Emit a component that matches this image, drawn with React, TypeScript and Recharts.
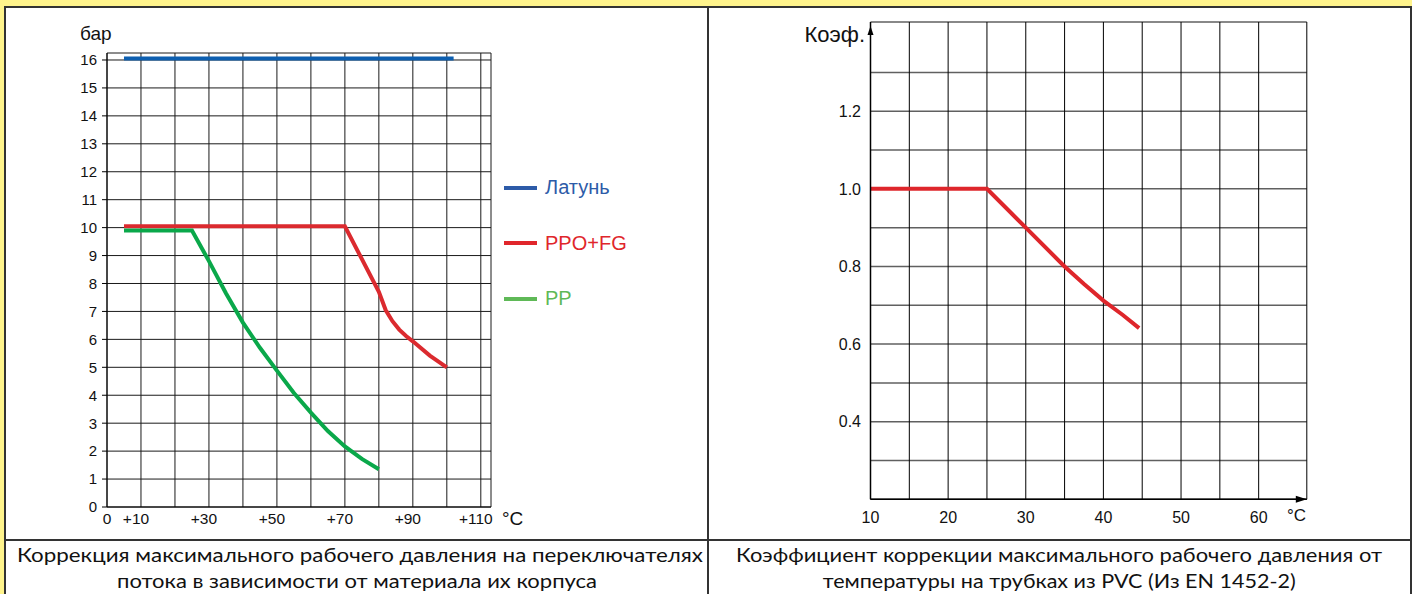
import React from "react";
import {
  LineChart,
  Line,
  XAxis,
  YAxis,
  CartesianGrid,
  Legend,
  ReferenceDot,
} from "recharts";

// left chart: max pressure (bar) vs temperature
const brassTemp = [5, 102];
const brassBar = [16.05, 16.05];
const ppoTemp = [5, 70, 80, 82, 84, 86, 88, 90, 95, 100];
const ppoBar = [10.05, 10.05, 7.7, 7.05, 6.65, 6.35, 6.12, 5.93, 5.42, 5.0];
const ppTemp = [5, 25, 30, 35, 40, 45, 50, 55, 60, 65, 70, 75, 80];
const ppBar = [9.9, 9.9, 8.8, 7.65, 6.6, 5.7, 4.88, 4.08, 3.38, 2.72, 2.17, 1.72, 1.35];

const seriesNames = ["Латунь", "PPO+FG", "PP"];
const seriesColors = ["#0d5fb0", "#db2a2f", "#0aa84a"];
const legendColors = ["#2d5ba8", "#e0262b", "#5fb957"];

const leftXTicks = [0, 10, 20, 30, 40, 50, 60, 70, 80, 90, 100, 110];
const leftXLabels = ["0", "+10", "", "+30", "", "+50", "", "+70", "", "+90", "", "+110"];
const leftYTicks = [0, 1, 2, 3, 4, 5, 6, 7, 8, 9, 10, 11, 12, 13, 14, 15, 16];

// right chart: PVC correction coefficient vs temperature
const pvcTemp = [10, 25, 30, 35, 37.5, 40, 42.5, 44.6];
const pvcCoef = [1.0, 1.0, 0.9, 0.8, 0.755, 0.712, 0.675, 0.641];

const rightXTicks = [10, 15, 20, 25, 30, 35, 40, 45, 50, 55, 60];
const rightXLabels = ["10", "", "20", "", "30", "", "40", "", "50", "", "60"];
const rightYTicks = [0.2, 0.3, 0.4, 0.5, 0.6, 0.7, 0.8, 0.9, 1.0, 1.1, 1.2, 1.3];
const rightYLabels = ["", "", "0.4", "", "0.6", "", "0.8", "", "1.0", "", "1.2", ""];

const pair = (xs: number[], ys: number[]) => xs.map((t, i) => ({ t, v: ys[i] }));

const ARIAL = "'Liberation Sans', Arial, sans-serif";
const CAPTION = "Lato, 'Open Sans', sans-serif";

const LeftXTick = (props: any) => {
  const { x, y, payload } = props;
  const label = leftXLabels[leftXTicks.indexOf(payload.value)];
  if (!label) return null;
  return (
    <text
      x={label.startsWith("+") ? x - 5 : x}
      y={y}
      dy="0.71em"
      textAnchor="middle"
      fontSize={15.5}
      fontFamily={ARIAL}
      fill="#111"
    >
      {label}
    </text>
  );
};

const LegendBox = () => (
  <div style={{ fontFamily: ARIAL }}>
    {seriesNames.map((name, i) => (
      <div
        key={name}
        style={{ height: 55.5, display: "flex", alignItems: "center" }}
      >
        <div
          style={{
            width: 33,
            height: 4,
            background: legendColors[i],
            marginRight: 8,
          }}
        />
        <span style={{ fontSize: 20, color: legendColors[i] }}>{name}</span>
      </div>
    ))}
  </div>
);

function PressureChart() {
  const data = [
    pair(brassTemp, brassBar),
    pair(ppoTemp, ppoBar),
    pair(ppTemp, ppBar),
  ];
  return (
    <LineChart
      width={708}
      height={540}
      margin={{ top: 53, right: 217, bottom: 3, left: 47 }}
    >
      <CartesianGrid stroke="#1a1a1a" strokeWidth={1} />
      <XAxis
        type="number"
        dataKey="t"
        domain={[0, 113]}
        ticks={leftXTicks}
        interval={0}
        height={30}
        tickSize={0}
        tickMargin={6}
        tick={<LeftXTick />}
        axisLine={{ stroke: "#000" }}
        allowDataOverflow
      />
      <YAxis
        type="number"
        dataKey="v"
        domain={[0, 16.25]}
        ticks={leftYTicks}
        interval={0}
        width={60}
        tickSize={5}
        tickMargin={5}
        tick={{ fontSize: 15, fontFamily: ARIAL, fill: "#111" }}
        tickLine={{ stroke: "#000" }}
        axisLine={{ stroke: "#000" }}
        allowDataOverflow
      />
      {data.map((d, i) => (
        <Line
          key={seriesNames[i]}
          data={d}
          dataKey="v"
          name={seriesNames[i]}
          type="linear"
          stroke={seriesColors[i]}
          strokeWidth={4}
          dot={false}
          isAnimationActive={false}
        />
      ))}
      <Legend
        layout="vertical"
        align="center"
        verticalAlign="middle"
        wrapperStyle={{ position: "absolute", left: 504, top: 160, width: 180, height: 170 }}
        content={() => <LegendBox />}
      />
    </LineChart>
  );
}

function CoefChart() {
  const data = pair(pvcTemp, pvcCoef);
  return (
    <LineChart
      width={704}
      height={540}
      margin={{ top: 22, right: 105.2, bottom: 10.7, left: 102.5 }}
    >
      <CartesianGrid vertical={false} stroke="#606060" strokeWidth={1.5} />
      <CartesianGrid horizontal={false} stroke="#000" strokeWidth={1} />
      <XAxis
        type="number"
        dataKey="t"
        domain={[10, 66.2]}
        ticks={rightXTicks}
        interval={0}
        height={30}
        tickSize={0}
        tickMargin={12}
        tickFormatter={(v: number) => rightXLabels[rightXTicks.indexOf(v)] || ""}
        tick={{ fontSize: 16, fontFamily: ARIAL, fill: "#111" }}
        axisLine={{ stroke: "#000", strokeWidth: 1.5 }}
        allowDataOverflow
      />
      <YAxis
        type="number"
        dataKey="v"
        domain={[0.2, 1.43]}
        ticks={rightYTicks}
        interval={0}
        width={60}
        tickSize={0}
        tickMargin={9.5}
        tickFormatter={(v: number) => rightYLabels[rightYTicks.indexOf(v)] || ""}
        tick={{ fontSize: 16, fontFamily: ARIAL, fill: "#111" }}
        axisLine={{ stroke: "#000", strokeWidth: 1.5 }}
        allowDataOverflow
      />
      <Line
        data={data}
        dataKey="v"
        type="linear"
        stroke="#de262b"
        strokeWidth={4}
        dot={false}
        isAnimationActive={false}
      />
      <ReferenceDot
        x={66.2}
        y={0.2}
        r={0}
        shape={(p: any) => (
          <path d={`M${p.cx},${p.cy} l-11,-3.5 l0,7 z`} fill="#000" />
        )}
      />
      <ReferenceDot
        x={10}
        y={1.43}
        r={0}
        shape={(p: any) => (
          <path d={`M${p.cx},${p.cy + 4} l-3,9 l6,0 z`} fill="#000" />
        )}
      />
    </LineChart>
  );
}

export default function App() {
  return (
    <div
      style={{
        position: "absolute",
        left: 0,
        top: 0,
        width: 1412,
        height: 594,
        background: "#fff48c",
        overflow: "hidden",
      }}
    >
      <div
        style={{
          position: "absolute",
          left: 4,
          top: 6,
          width: 1408,
          height: 610,
          boxSizing: "border-box",
          border: "2px solid #333",
          background: "#fff",
        }}
      />
      <div style={{ position: "absolute", left: 707, top: 6, width: 2, height: 600, background: "#333" }} />
      <div style={{ position: "absolute", left: 4, top: 539, width: 1408, height: 2, background: "#333" }} />

      <div style={{ position: "absolute", left: 0, top: 0, width: 708, height: 540 }}>
        <PressureChart />
      </div>
      <div style={{ position: "absolute", left: 708, top: 0, width: 704, height: 540 }}>
        <CoefChart />
      </div>

      <svg
        width={1412}
        height={594}
        style={{ position: "absolute", left: 0, top: 0, pointerEvents: "none" }}
      >
        <text x={80} y={40} fontSize={19} fontFamily={ARIAL} fill="#111">бар</text>
        <text x={502} y={525} fontSize={19} fontFamily={ARIAL} fill="#111">°C</text>
        <text x={865} y={42} fontSize={22} fontFamily={ARIAL} fill="#111" textAnchor="end">Коэф.</text>
        <text x={1287} y={521} fontSize={17} fontFamily={ARIAL} fill="#111">°C</text>

        <g fontSize={19.5} fontFamily={CAPTION} fill="#111">
          <text x={17} y={562} textLength={686} lengthAdjust="spacingAndGlyphs">
            Коррекция максимального рабочего давления на переключателях
          </text>
          <text x={117} y={588} textLength={480} lengthAdjust="spacingAndGlyphs">
            потока в зависимости от материала их корпуса
          </text>
          <text x={736} y={562} textLength={646} lengthAdjust="spacingAndGlyphs">
            Коэффициент коррекции максимального рабочего давления от
          </text>
          <text x={822.7} y={588} textLength={473} lengthAdjust="spacingAndGlyphs">
            температуры на трубках из PVC (Из EN 1452-2)
          </text>
        </g>
      </svg>
    </div>
  );
}
